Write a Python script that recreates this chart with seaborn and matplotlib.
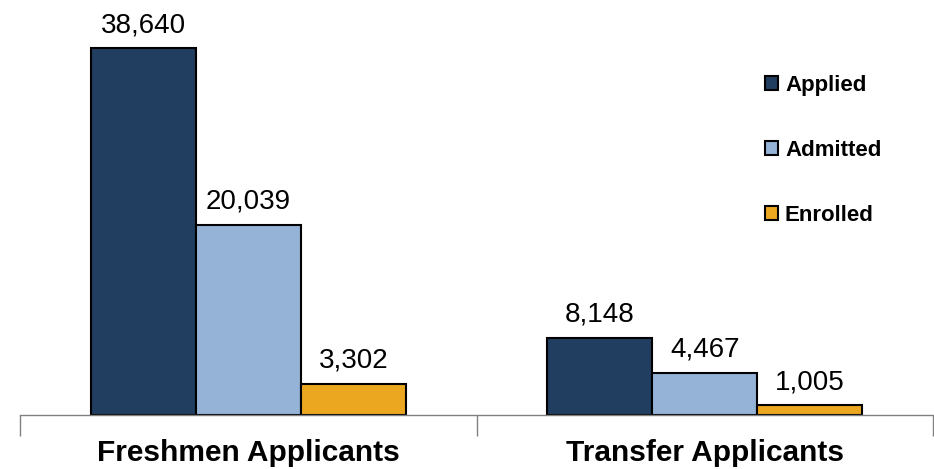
import matplotlib
matplotlib.use("Agg")
import matplotlib.pyplot as plt
import seaborn as sns
import pandas as pd

categories = ["Freshmen Applicants", "Transfer Applicants"]
series = ["Applied", "Admitted", "Enrolled"]
applied = [38640, 8148]
admitted = [20039, 4467]
enrolled = [3302, 1005]
colors = ["#213D5F", "#95B3D7", "#EBA720"]

rows = []
for s, vals in zip(series, [applied, admitted, enrolled]):
    for c, v in zip(categories, vals):
        rows.append({"category": c, "series": s, "value": v})
df = pd.DataFrame(rows)

sns.set_style("white")
plt.rcParams["font.family"] = ["Liberation Sans", "DejaVu Sans"]
plt.rcParams["text.color"] = "black"
plt.rcParams["xtick.color"] = "black"

fig = plt.figure(figsize=(9.34, 4.69), dpi=100)
ax = fig.add_axes([20/934, 54/469, 913/934, 380/469])

sns.barplot(data=df, x="category", y="value", hue="series", order=categories,
            hue_order=series, palette=colors, width=0.69, edgecolor="black",
            linewidth=1.5, ax=ax, saturation=1)

ax.set_ylim(0, 40000)
ax.set_xlim(-0.5, 1.5)
for cont in ax.containers:
    ax.bar_label(cont, labels=[f"{v:,.0f}" for v in cont.datavalues],
                 padding=7, fontsize=20, color="black")

ax.set_ylabel("")
ax.set_xlabel("")
ax.set_yticks([])
ax.set_xticks([-0.5, 0.5, 1.5])
ax.set_xticklabels([])
ax.set_xticks([0, 1], minor=True)
ax.set_xticklabels(categories, minor=True, fontsize=21.5, fontweight="bold", color="black")
ax.tick_params(axis="x", which="major", bottom=True, length=15, width=1,
               color="#808080", direction="out")
ax.tick_params(axis="x", which="minor", bottom=True, length=0, pad=17)
for side in ["left", "right", "top"]:
    ax.spines[side].set_visible(False)
ax.spines["bottom"].set_color("#808080")
ax.spines["bottom"].set_linewidth(1)

leg = ax.legend(loc="upper left", bbox_to_anchor=(745/934, 1 - 55/469),
                bbox_transform=fig.transFigure, frameon=False,
                prop={"size": 16, "weight": "bold"}, handlelength=0.6,
                handleheight=0.6, handletextpad=0.3, labelspacing=1.98)
for t in leg.get_texts():
    t.set_color("black")

fig.savefig("out.png", dpi=100)
